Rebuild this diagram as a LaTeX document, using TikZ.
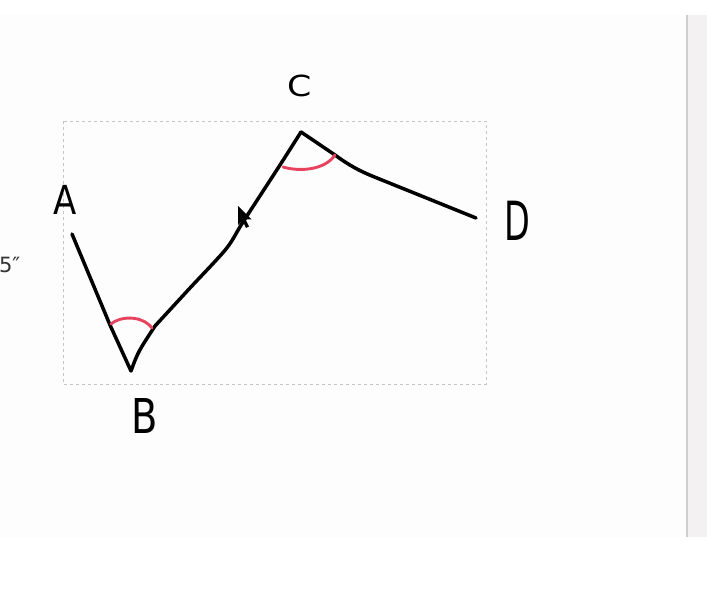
\documentclass[tikz,border=0pt]{standalone}
\usepackage{fontspec}
\setmainfont{DejaVu Sans}
\definecolor{anglered}{HTML}{E8435E}
\definecolor{dashgray}{HTML}{C4C4C4}
\definecolor{barline}{HTML}{CFCFCF}
\definecolor{barfill}{HTML}{F3F1F1}
\definecolor{canvasbg}{HTML}{FEFDFD}
\begin{document}
\begin{tikzpicture}[x=1pt,y=-1pt,
  stroke/.style={line width=3.5pt,line cap=round,line join=round,black},
  anglearc/.style={line width=2.9pt,line cap=round,anglered},
  lbl/.style={inner sep=0pt,outer sep=0pt,transform shape}]
\useasboundingbox (0,0) rectangle (707,612);
\clip (0,0) rectangle (707,612);
% canvas and scrollbar
\fill[canvasbg] (0,15) rectangle (686,537);
\fill[barfill] (688,15) rectangle (707,537);
\draw[barline,line width=2pt] (687,15) -- (687,537);
% selection box
\draw[dashgray,line width=0.8pt,dash pattern=on 3pt off 3pt] (63,121) rectangle (486,384);
% the polyline
\coordinate (pA) at (72,234);
\coordinate (pB) at (131,371);
\coordinate (pC) at (301,132);
\coordinate (pD) at (476,218);
\draw[stroke] (pA) -- (110,325) -- (pB)
  .. controls (138,352) .. (155,326);
\draw[stroke] plot[smooth,tension=0.5] coordinates {(155,326) (190,288) (226,249) (243,222) (280,165) (301,132)};
\draw[stroke] (pC) -- (335,155) .. controls (350,166) and (360,171) .. (372,176)
  -- (pD);
% angle marks
\draw[anglearc] (111,324) .. controls (120,316) and (142,315) .. (152,328);
\draw[anglearc] (283,167) .. controls (300,172) and (325,170) .. (335,155);
% labels
\node[lbl,xscale=0.85,font=\fontsize{40}{40}\selectfont] (A) at (65,200) {A};
\node[lbl,xscale=0.8,font=\fontsize{48}{48}\selectfont] (B) at (145,416) {B};
\node[lbl,xscale=1.2,font=\fontsize{29}{29}\selectfont] (C) at (300,86) {C};
\node[lbl,xscale=0.62,font=\fontsize{54}{54}\selectfont] (D) at (517,221) {D};
\node[lbl,anchor=west,text=black!80,font=\fontsize{21}{21}\selectfont] (len) at (-1,265) {5″};
% mouse cursor
\fill[black] (238,206) -- (238,225) -- (242.5,220.5) -- (246,228) -- (249,226.5) -- (245.5,219.5) -- (251.5,219.5) -- cycle;
\end{tikzpicture}
\end{document}
